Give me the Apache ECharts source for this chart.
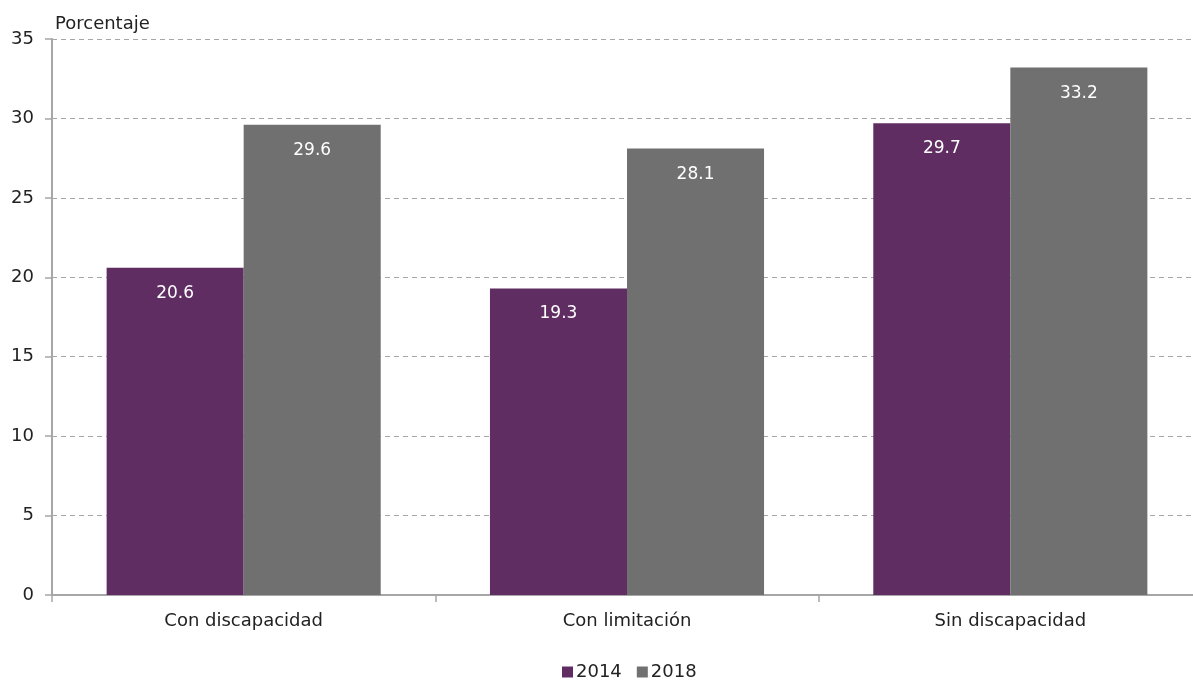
<!DOCTYPE html>
<html>
<head>
<meta charset="utf-8">
<script src="https://cdn.jsdelivr.net/npm/echarts@6/dist/echarts.min.js"></script>
<style>
  html, body { margin: 0; padding: 0; background: #fff; overflow: hidden; }
  #chart { width: 1202px; height: 683px; }
</style>
</head>
<body>
<div id="chart"></div>
<script>
  const categories = ['Con discapacidad', 'Con limitación', 'Sin discapacidad']
  const serie2014 = [20.6, 19.3, 29.7]
  const serie2018 = [29.6, 28.1, 33.2]
  const yTicks = { min: 0, max: 35, interval: 5 }

  const fontFamily = '"DejaVu Sans", sans-serif'
  const chart = echarts.init(document.getElementById('chart'))

  const labelStyle = {
    show: true,
    position: 'insideTop',
    distance: 17,
    color: '#fff',
    fontSize: 17,
    fontFamily: fontFamily,
    formatter: p => p.value.toFixed(1)
  }

  const option = {
    animation: false,
    textStyle: { fontFamily: fontFamily },
    title: {
      text: 'Porcentaje',
      left: 50,
      top: 10,
      textStyle: { fontSize: 18, fontWeight: 'normal', color: '#222', fontFamily: fontFamily }
    },
    grid: { left: 52, right: 0, top: 39, bottom: 88, containLabel: false },
    legend: {
      data: ['2014', '2018'],
      top: 663,
      left: 562,
      padding: 0,
      itemWidth: 11,
      itemHeight: 11,
      itemGap: 15,
      icon: 'rect',
      textStyle: { fontSize: 18, color: '#222', padding: [0, 0, 0, -2] }
    },
    xAxis: {
      type: 'category',
      data: categories,
      axisLine: { lineStyle: { color: '#a6a6a6', width: 2 } },
      axisTick: { show: true, length: 7, lineStyle: { color: '#a6a6a6', width: 1.5 } },
      axisLabel: { fontSize: 18, color: '#222', margin: 17 }
    },
    yAxis: {
      type: 'value',
      min: yTicks.min,
      max: yTicks.max,
      interval: yTicks.interval,
      axisLine: { show: true, lineStyle: { color: '#a6a6a6', width: 2 } },
      axisTick: { show: true, length: 7, lineStyle: { color: '#a6a6a6', width: 1.5 } },
      axisLabel: { fontSize: 18, color: '#222', margin: 18 },
      splitLine: { lineStyle: { color: '#a6a6a6', type: [5, 4], width: 1.2 } }
    },
    series: [
      {
        name: '2014',
        type: 'bar',
        data: serie2014,
        barGap: '0%',
        barCategoryGap: '28.5%',
        itemStyle: { color: '#5f2d62' },
        label: labelStyle
      },
      {
        name: '2018',
        type: 'bar',
        data: serie2018,
        itemStyle: { color: '#707070' },
        label: labelStyle
      }
    ]
  }

  chart.setOption(option)
  window.addEventListener('resize', () => {
    chart.resize()
  })
</script>
</body>
</html>
